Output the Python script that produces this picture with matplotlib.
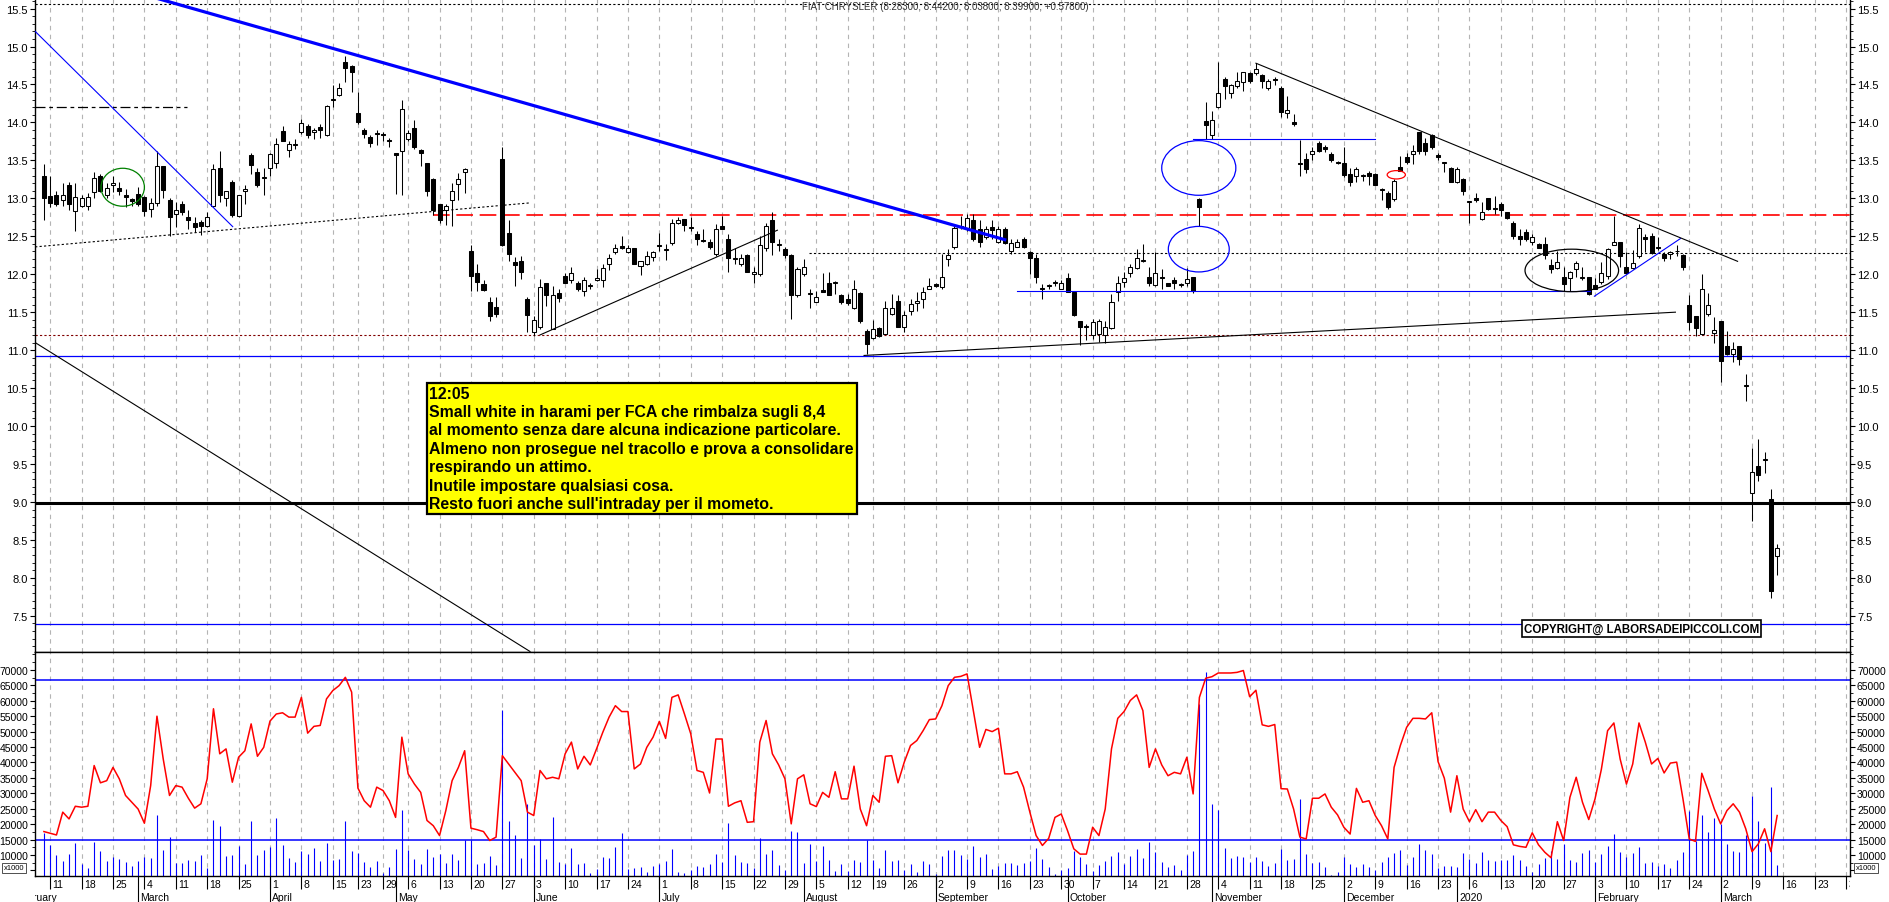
import numpy as np
import pandas as pd
import matplotlib
matplotlib.use("Agg")
import matplotlib.pyplot as plt
from matplotlib.patches import Ellipse
from matplotlib.ticker import FixedLocator, MultipleLocator, FormatStrFormatter, FuncFormatter

plt.rcParams["font.family"] = ["Liberation Sans", "DejaVu Sans"]

# ---------------------------------------------------------------- data
FIRST_DAY = "2019-02-08"
LAST_AXIS_DAY = "2020-04-03"
HOLIDAYS = ["2019-04-19", "2019-04-22", "2019-05-01", "2019-08-15",
            "2019-12-24", "2019-12-25", "2019-12-26", "2019-12-31", "2020-01-01"]

# daily candles, one row per trading week
opens = [
    13.30,
    13.03, 13.04, 12.98, 13.17, 12.83,
    12.90, 12.90, 13.08, 13.30, 13.05,
    13.18, 13.13, 13.05, 12.99, 13.06,
    13.02, 12.86, 12.94, 13.42, 12.98,
    12.80, 12.93, 12.75, 12.68, 12.69,
    12.63, 12.90, 13.40, 13.00, 13.22,
    12.77, 13.10, 13.57, 13.35, 13.27,
    13.40, 13.47, 13.89, 13.64, 13.70,
    13.87, 13.95, 13.87, 13.94, 13.84,
    14.30, 14.36, 14.79, 14.74,
    14.12, 13.90, 13.81, 13.86,
    13.85, 13.76, 13.60, 13.63,
    13.78, 13.93, 13.64, 13.46, 13.25,
    12.93, 12.84, 12.98, 13.19, 13.35,
    12.31, 12.02, 11.87, 11.63, 11.57,
    13.52, 12.54, 12.16, 12.18, 11.68,
    11.24, 11.31, 11.88, 11.28, 11.75,
    11.98, 11.92, 11.89, 11.78, 11.85,
    11.92, 11.92, 12.13, 12.29, 12.37,
    12.29, 12.34, 12.11, 12.14, 12.23,
    12.39, 12.32, 12.41, 12.67, 12.73,
    12.61, 12.53, 12.45, 12.43, 12.26,
    12.64, 12.46, 12.20, 12.13, 12.25,
    12.00, 12.00, 12.35, 12.71, 12.38,
    12.33, 12.25, 11.72, 12.00, 11.74,
    11.64, 11.79, 11.89, 11.88, 11.72,
    11.67, 11.56, 11.75, 11.25,
    11.16, 11.29, 11.21, 11.48, 11.65,
    11.31, 11.52, 11.62, 11.67, 11.81,
    11.87, 11.83, 12.20, 12.36, 12.62,
    12.61, 12.72, 12.60, 12.49, 12.62,
    12.43, 12.59, 12.30, 12.36, 12.47,
    12.29, 12.22, 11.82, 11.84, 11.89,
    11.81, 11.95, 11.77, 11.39, 11.32,
    11.20, 11.21, 11.20, 11.29, 11.76,
    11.90, 12.02, 12.08, 12.18, 11.97,
    11.86, 11.97, 11.89, 11.93, 11.86,
    11.89, 11.96, 12.99, 14.02, 13.83,
    14.20, 14.57, 14.39, 14.48, 14.53,
    14.65, 14.65, 14.63, 14.45, 14.57,
    14.46, 14.13, 14.01, 13.47, 13.52,
    13.58, 13.73, 13.67, 13.58, 13.48,
    13.47, 13.32, 13.29, 13.29, 13.34,
    13.32, 13.11, 13.07, 12.99, 13.41,
    13.54, 13.58, 13.87, 13.73, 13.83,
    13.57, 13.46,
    13.40, 13.22, 13.26,
    12.95, 13.00, 12.73, 13.00, 12.87,
    12.93, 12.82, 12.68, 12.50, 12.55,
    12.42, 12.40, 12.40, 12.12, 12.08,
    11.96, 11.95, 12.07, 11.95, 11.97,
    11.86, 11.90, 11.98, 12.39, 12.43,
    12.09, 12.08, 12.24, 12.49, 12.50,
    12.36, 12.27, 12.27, 12.31, 12.25,
    11.60, 11.45, 11.21, 11.48, 11.23,
    11.39, 11.06, 10.95, 11.06, 10.53,
    9.12, 9.48, 9.55, 9.04, 8.283,
]
highs = [
    13.45,
    13.30, 13.10, 13.20, 13.22, 13.20,
    13.05, 13.07, 13.35, 13.32, 13.20,
    13.30, 13.22, 13.12, 13.00, 13.15,
    13.03, 13.00, 13.62, 13.43, 13.00,
    12.95, 12.96, 12.85, 12.75, 12.72,
    12.82, 13.45, 13.62, 13.10, 13.24,
    13.05, 13.18, 13.60, 13.40, 13.40,
    13.60, 13.80, 13.95, 13.75, 13.78,
    14.04, 13.98, 13.93, 13.98, 14.23,
    14.49, 14.52, 14.88, 14.75,
    14.40, 13.92, 13.83, 13.90,
    13.88, 13.80, 13.60, 14.30,
    13.90, 14.03, 13.65, 13.47, 13.27,
    12.93, 12.93, 13.20, 13.33, 13.40,
    12.38, 12.13, 11.92, 11.70, 11.70,
    13.68, 12.72, 12.23, 12.24, 11.70,
    11.45, 11.94, 11.88, 11.85, 11.80,
    12.02, 12.09, 11.91, 11.96, 11.89,
    12.07, 12.13, 12.27, 12.40, 12.50,
    12.38, 12.35, 12.18, 12.30, 12.30,
    12.54, 12.40, 12.73, 12.76, 12.73,
    12.75, 12.57, 12.60, 12.46, 12.66,
    12.77, 12.53, 12.35, 12.26, 12.26,
    12.10, 12.51, 12.68, 12.82, 12.46,
    12.36, 12.26, 12.09, 12.20, 11.81,
    11.78, 12.02, 12.03, 11.91, 11.74,
    11.74, 11.92, 11.76, 11.28,
    11.40, 11.30, 11.65, 11.74, 11.72,
    11.52, 11.68, 11.76, 11.83, 11.95,
    11.88, 12.27, 12.33, 12.64, 12.77,
    12.79, 12.79, 12.71, 12.64, 12.72,
    12.64, 12.62, 12.46, 12.46, 12.49,
    12.30, 12.27, 11.87, 11.87, 11.92,
    11.92, 12.02, 11.78, 11.39, 11.34,
    11.41, 11.41, 11.39, 11.74, 11.98,
    12.03, 12.14, 12.33, 12.40, 12.09,
    12.29, 12.07, 11.89, 11.96, 11.89,
    12.08, 11.97, 13.00, 14.27, 14.15,
    14.80, 14.60, 14.50, 14.66, 14.66,
    14.67, 14.78, 14.64, 14.57, 14.60,
    14.48, 14.35, 14.11, 13.77, 13.60,
    13.67, 13.76, 13.70, 13.61, 13.49,
    13.67, 13.40, 13.41, 13.32, 13.36,
    13.33, 13.14, 13.09, 13.25, 13.56,
    13.60, 13.70, 13.88, 13.80, 13.85,
    13.60, 13.47,
    13.41, 13.41, 13.27,
    12.97, 13.07, 12.95, 13.01, 13.03,
    12.95, 12.82, 12.70, 12.60, 12.59,
    12.53, 12.41, 12.49, 12.20, 12.30,
    12.09, 12.04, 12.18, 12.09, 11.97,
    11.95, 12.16, 12.35, 12.77, 12.43,
    12.29, 12.32, 12.66, 12.53, 12.54,
    12.49, 12.29, 12.31, 12.38, 12.27,
    11.72, 11.45, 12.00, 11.75, 11.43,
    11.39, 11.25, 11.11, 11.06, 10.69,
    9.71, 9.83, 9.66, 9.17, 8.442,
]
lows = [
    12.72,
    12.89, 12.90, 12.90, 12.85, 12.57,
    12.88, 12.85, 13.00, 13.08, 13.00,
    13.08, 13.05, 12.88, 12.90, 12.90,
    12.77, 12.75, 12.90, 13.00, 12.50,
    12.62, 12.78, 12.60, 12.55, 12.52,
    12.62, 12.88, 12.95, 12.90, 12.75,
    12.76, 12.92, 13.32, 13.15, 13.05,
    13.30, 13.40, 13.75, 13.55, 13.65,
    13.85, 13.80, 13.78, 13.80, 13.82,
    14.20, 14.35, 14.53, 14.40,
    13.98, 13.80, 13.68, 13.70,
    13.75, 13.68, 13.06, 13.05,
    13.75, 13.65, 13.42, 13.03, 12.78,
    12.67, 12.65, 12.63, 12.98, 13.07,
    11.78, 11.78, 11.78, 11.39, 11.43,
    12.37, 12.17, 11.85, 11.94, 11.24,
    11.19, 11.28, 11.58, 11.28, 11.63,
    11.89, 11.89, 11.78, 11.71, 11.80,
    11.91, 11.83, 12.05, 12.27, 12.33,
    12.28, 12.14, 11.99, 12.12, 12.18,
    12.31, 12.19, 12.38, 12.66, 12.57,
    12.57, 12.38, 12.42, 12.33, 12.245,
    12.59, 12.03, 12.135, 12.11, 12.025,
    11.89, 11.98, 12.31, 12.25, 12.31,
    12.22, 11.41, 11.70, 11.98, 11.56,
    11.63, 11.76, 11.72, 11.74, 11.61,
    11.59, 11.54, 11.36, 10.95,
    11.15, 11.17, 11.21, 11.46, 11.30,
    11.24, 11.46, 11.51, 11.55, 11.80,
    11.83, 11.81, 12.11, 12.33, 12.60,
    12.575, 12.44, 12.36, 12.47, 12.465,
    12.41, 12.40, 12.27, 12.355, 12.34,
    12.00, 11.89, 11.67, 11.81, 11.85,
    11.80, 11.77, 11.45, 11.07, 11.13,
    11.15, 11.11, 11.10, 11.28, 11.65,
    11.83, 11.97, 12.07, 12.16, 11.85,
    11.84, 11.81, 11.84, 11.80, 11.83,
    11.85, 11.75, 12.64, 13.78, 13.78,
    14.19, 14.31, 14.32, 14.46, 14.41,
    14.52, 14.62, 14.45, 14.43, 14.49,
    14.07, 14.06, 13.95, 13.30, 13.34,
    13.50, 13.61, 13.61, 13.48, 13.45,
    13.28, 13.16, 13.22, 13.23, 13.17,
    13.17, 12.98, 12.86, 12.97, 13.36,
    13.45, 13.45, 13.58, 13.57, 13.65,
    13.50, 13.35,
    13.21, 13.20, 13.04,
    12.68, 12.95, 12.71, 12.85, 12.79,
    12.77, 12.73, 12.46, 12.38, 12.44,
    12.38, 12.34, 12.20, 12.02, 12.07,
    11.78, 11.78, 11.96, 11.93, 11.72,
    11.80, 11.87, 11.94, 12.38, 12.10,
    12.00, 12.07, 12.22, 12.29, 12.27,
    12.32, 12.17, 12.20, 12.24, 12.05,
    11.26, 11.19, 11.20, 11.45, 11.10,
    10.58, 10.93, 10.85, 10.80, 10.33,
    8.75, 9.28, 9.38, 7.74, 8.038,
]
closes = [
    13.00,
    12.94, 12.92, 13.05, 12.93, 13.02,
    13.00, 13.02, 13.27, 13.10, 13.14,
    13.20, 13.10, 13.02, 12.96, 12.93,
    12.83, 12.94, 13.42, 13.11, 12.75,
    12.84, 12.82, 12.71, 12.62, 12.64,
    12.75, 13.39, 13.05, 13.09, 12.78,
    13.04, 13.12, 13.44, 13.17, 13.28,
    13.59, 13.72, 13.76, 13.72, 13.72,
    13.99, 13.84, 13.90, 13.90, 14.21,
    14.30, 14.46, 14.72, 14.66,
    14.00, 13.85, 13.73, 13.85,
    13.84, 13.75, 13.57, 14.18,
    13.86, 13.68, 13.60, 13.10, 12.84,
    12.71, 12.90, 13.10, 13.25, 13.39,
    11.98, 11.90, 11.79, 11.45, 11.48,
    12.39, 12.27, 12.12, 12.03, 11.46,
    11.40, 11.83, 11.73, 11.73, 11.69,
    11.89, 12.01, 11.81, 11.92, 11.85,
    11.95, 12.08, 12.21, 12.35, 12.34,
    12.34, 12.14, 12.17, 12.24, 12.29,
    12.37, 12.32, 12.67, 12.71, 12.65,
    12.61, 12.46, 12.44, 12.36, 12.60,
    12.59, 12.21, 12.20, 12.22, 12.03,
    12.03, 12.39, 12.63, 12.43, 12.38,
    12.25, 11.73, 12.07, 12.09, 11.74,
    11.70, 11.77, 11.73, 11.88, 11.63,
    11.62, 11.81, 11.38, 11.08,
    11.28, 11.19, 11.55, 11.56, 11.31,
    11.46, 11.61, 11.65, 11.76, 11.85,
    11.85, 11.96, 12.25, 12.61, 12.62,
    12.74, 12.47, 12.43, 12.59, 12.58,
    12.60, 12.41, 12.41, 12.43, 12.36,
    12.22, 11.97, 11.81, 11.84, 11.89,
    11.89, 11.77, 11.46, 11.31, 11.30,
    11.37, 11.39, 11.31, 11.64, 11.89,
    11.95, 12.09, 12.22, 12.18, 11.88,
    12.01, 11.95, 11.85, 11.89, 11.86,
    11.94, 11.78, 12.88, 13.96, 14.03,
    14.39, 14.48, 14.49, 14.54, 14.66,
    14.54, 14.71, 14.54, 14.54, 14.56,
    14.14, 14.17, 13.98, 13.45, 13.38,
    13.62, 13.62, 13.65, 13.51, 13.46,
    13.31, 13.22, 13.39, 13.29, 13.29,
    13.17, 13.11, 12.88, 13.23, 13.36,
    13.48, 13.63, 13.63, 13.62, 13.67,
    13.54, 13.46,
    13.22, 13.39, 13.10,
    12.95, 12.98, 12.82, 12.86, 12.86,
    12.85, 12.74, 12.50, 12.47, 12.46,
    12.49, 12.35, 12.25, 12.07, 12.16,
    11.87, 12.03, 12.15, 11.95, 11.74,
    11.80, 12.02, 12.33, 12.43, 12.24,
    12.02, 12.15, 12.61, 12.46, 12.28,
    12.35, 12.22, 12.29, 12.30, 12.10,
    11.37, 11.29, 11.80, 11.59, 11.26,
    10.86, 10.95, 11.02, 10.88, 10.53,
    9.40, 9.35, 9.55, 7.821, 8.399,
]
# volume (x1000) and the red average line of the lower panel
volume = [
    17000,
    13300, 10000, 7900, 10300, 13900,
    7100, 5800, 14300, 11300, 8100,
    9400, 8700, 7800, 6500, 8100,
    9400, 9100, 23000, 11600, 15900,
    7400, 7400, 8400, 8100, 10000,
    5800, 21400, 19400, 9700, 10000,
    12900, 7100, 21000, 10000, 11600,
    12600, 22000, 13300, 9100, 7800,
    11300, 10300, 12300, 8100, 13900,
    8400, 8700, 21000, 11300,
    10600, 7800, 6100, 8100,
    4200, 6100, 12000, 24600,
    11600, 8700, 7100, 12000, 9400,
    10300, 7400, 10300, 8400, 14900,
    14900, 7100, 7400, 9700, 6800,
    57000, 21000, 16500, 9100, 26600,
    13300, 15300, 8800, 22400, 7800,
    7100, 12300, 7100, 7400, 4200,
    5500, 9400, 9100, 12600, 17000,
    5500, 5800, 6000, 4400, 6400,
    7100, 8200, 12000, 4600, 4100,
    5300, 6400, 6000, 7100, 10300,
    7800, 20500, 10000, 7800, 7400,
    5800, 15500, 10300, 11600, 6800,
    5300, 17800, 17500, 7400, 13600,
    8100, 12900, 8400, 4800, 7100,
    4800, 8400, 7800, 14900,
    8400, 5800, 11600, 8100, 8400,
    5200, 7100, 4500, 8100, 7100,
    4000, 9700, 11600, 11600, 10000,
    8700, 12900, 9400, 10300, 5500,
    6500, 7400, 7400, 6800, 7400,
    8100, 12300, 8700, 6100, 3900,
    5200, 5800, 11300, 9400, 7000,
    4800, 6800, 8100, 9700, 11000,
    7100, 9700, 12000, 9100, 14300,
    11000, 7800, 6100, 6800, 5200,
    10000, 11300, 59000, 69400, 26600,
    24600, 12300, 9100, 9700, 9400,
    7800, 9400, 8100, 6500, 7400,
    12000, 8400, 8700, 28200, 10300,
    7400, 7800, 6100, 3500, 4500,
    9400, 7100, 6100, 7100, 6100,
    5200, 7800, 9400, 10600, 11600,
    6800, 9400, 13600, 11600, 10300,
    5800, 6500,
    6500, 6100, 10600,
    8700, 7400, 11000, 8400, 8100,
    8400, 8400, 10000, 8400, 6500,
    4500, 7100, 9100, 11300, 8700,
    13600, 8400, 7800, 10600, 11600,
    7800, 10300, 12900, 16800, 11000,
    9400, 10600, 12600, 7400, 7800,
    6500, 7100, 5800, 8400, 11000,
    24300, 14500, 23000, 17600, 22000,
    20000, 13600, 11300, 11000, 16500,
    29000, 21000, 14000, 32000, 6900,
]
volume_avg = [
    17600,
    17050, 16500, 23900, 21700, 25800,
    25500, 25800, 39000, 33400, 34100,
    38400, 34700, 29300, 27100, 24900,
    20300, 32500, 55000, 41100, 29300,
    32500, 32000, 28400, 25200, 26600,
    34700, 57400, 42800, 44400, 33600,
    41700, 43800, 52500, 42000, 44900,
    53400, 55700, 56100, 54700, 54700,
    61100, 49500, 51700, 52000, 60600,
    63300, 64900, 67600, 62800,
    31700, 27600, 25500, 32000,
    30900, 27600, 22200, 48200,
    36300, 33000, 30300, 21200, 19500,
    16300, 24400, 34100, 38400, 43800,
    18700, 18200, 17600, 14700, 15800,
    42200, 39500, 36800, 34100, 23900,
    22800, 37400, 34700, 35200, 34700,
    42800, 46600, 37900, 42000, 39200,
    44400, 49800, 54700, 58400, 56500,
    56500, 37900, 39500, 44900, 48200,
    53300, 47800, 61100, 61900, 55700,
    49300, 37400, 36800, 30100, 47600,
    47600, 25800, 26900, 27600, 20600,
    20800, 46600, 53600, 42800, 39200,
    34700, 20100, 34700, 36000, 26600,
    25700, 30300, 28700, 37000, 28200,
    28200, 38800, 24900, 19500,
    29300, 27100, 42000, 42200, 33400,
    40100, 45500, 47100, 50300, 53900,
    54100, 58400, 64900, 67600, 67900,
    68700, 56800, 44900, 50700, 50000,
    51100, 36300, 36300, 37000, 32000,
    23900, 16300, 13100, 15400, 22200,
    23300, 17900, 12000, 10300, 10300,
    19000, 16300, 24900, 44400, 54300,
    56500, 60100, 61900, 56800, 38400,
    44400, 39200, 35700, 36800, 36300,
    41700, 29800, 61100, 67300, 67800,
    69000, 69000, 69000, 69200, 69800,
    61300, 63400, 52200, 51700, 52300,
    31500, 31400, 24900, 15800, 15200,
    28400, 28400, 29800, 25500, 23000,
    19000, 16800, 31600, 27100, 27600,
    22800, 19500, 15200, 38400, 45500,
    51400, 54300, 54300, 54100, 56100,
    40300, 34900,
    23900, 35700, 24900,
    20800, 24700, 20800, 23900, 23900,
    21200, 19200, 13300, 12800, 12500,
    17200, 13300, 10900, 9100, 20800,
    14700, 28700, 35200, 27100, 21500,
    28200, 37700, 50300, 52800, 41100,
    33000, 39500, 52800, 46600, 39500,
    41300, 36600, 39800, 40100, 28200,
    15200, 14400, 36500, 30900, 24900,
    20100, 24400, 26600, 23900, 18500,
    11100, 13600, 18500, 11100, 22800,
]

# drawn studies (x = trading-day number from the first candle, y = price)
full_levels = [15.557, 11.20, 10.92, 8.98, 7.39]
thick_blue_trend = [(18.2, 15.63), (153.0, 12.455)]
blue_segments = [
    [(-1.4, 15.20), (30.06, 12.627)],
    [(183.0, 13.78), (211.9, 13.78)],
    [(155.0, 11.78), (246.2, 11.78)],
    [(246.9, 11.71), (260.6, 12.47)],
]
black_segments = [
    [(-1.4, 11.10), (77.4, 7.03)],
    [(79.0, 11.20), (116.8, 12.58)],
    [(130.6, 10.93), (259.8, 11.50)],
    [(193.0, 14.78), (269.7, 12.17)],
]
dotted_segments = [
    [(-1.4, 12.36), (77.4, 12.94)],
    [(121.8, 12.28), (300.0, 12.28)],
]
dashdot_level = [(-1.4, 14.20), (22.8, 14.20)]
red_dashed_level = [(61.9, 12.78), (300.0, 12.78)]
ellipses = [  # centre x, centre y, width, height, colour
    (183.9, 13.40, 11.8, 0.72, "#0000ff"),
    (183.9, 12.33, 9.7, 0.60, "#0000ff"),
    (12.55, 13.146, 6.9, 0.50, "#008000"),
    (215.35, 13.31, 2.9, 0.11, "#ff0000"),
    (243.3, 12.05, 14.9, 0.56, "#000000"),
]
vol_levels = [66800, 15000]

note_text = ("12:05\n"
             "Small white in harami per FCA che rimbalza sugli 8,4\n"
             "al momento senza dare alcuna indicazione particolare.\n"
             "Almeno non prosegue nel tracollo e prova a consolidare\n"
             "respirando un attimo.\n"
             "Inutile impostare qualsiasi cosa.\n"
             "Resto fuori anche sull'intraday per il mometo.")
copyright_text = "COPYRIGHT@ LABORSADEIPICCOLI.COM"

# ---------------------------------------------------------------- calendar
days = pd.bdate_range(FIRST_DAY, LAST_AXIS_DAY)
days = days[~days.isin(pd.to_datetime(HOLIDAYS))]
n = len(closes)
assert len(opens) == len(highs) == len(lows) == n == len(volume) == len(volume_avg)
idx = np.arange(n)

o = np.array(opens)
c = np.array(closes)
h = np.maximum(np.array(highs), np.maximum(o, c))
l = np.minimum(np.array(lows), np.minimum(o, c))

week_starts = [i for i in range(1, len(days)) if days[i].weekday() < days[i - 1].weekday()]
month_starts = [i for i in range(1, len(days)) if days[i].month != days[i - 1].month]
year_starts = [i for i in range(1, len(days)) if days[i].year != days[i - 1].year]
# the week holding a new year is not marked: the year label takes its place
bounds = week_starts + [len(days)]
week_starts = [w for w, nxt in zip(bounds[:-1], bounds[1:])
               if not any(w < y < nxt for y in year_starts)]

XMIN, XMAX = -1.42, 287.6

# ---------------------------------------------------------------- figure
fig = plt.figure(figsize=(18.9, 9.03), dpi=100)
left, width = 35 / 1890, (1850 - 35) / 1890
ax = fig.add_axes([left, 250 / 903, width, 653 / 903])
axv = fig.add_axes([left, 26 / 903, width, 224 / 903])
axd = fig.add_axes([left, 0, width, 26 / 903])

for a in (ax, axv, axd):
    a.set_xlim(XMIN, XMAX)
    a.set_facecolor("white")

grid_kw = dict(color="#b4b4b4", lw=0.8, ls=(0, (4, 4)), zorder=0)
for w in week_starts:
    ax.axvline(w, **grid_kw)
    axv.axvline(w, **grid_kw)

# candles
up = c >= o
ax.vlines(idx, l, h, color="black", lw=0.75, zorder=3)
body_h = np.maximum(np.abs(c - o), 0.012)
ax.bar(idx, body_h, bottom=np.minimum(o, c), width=0.64,
       color=np.where(up, "white", "black"), edgecolor="black", lw=0.75, zorder=3)

# studies
ax.axhline(full_levels[0], color="black", lw=0.8, ls=(0, (2, 2)), zorder=2)
ax.axhline(full_levels[1], color="#800000", lw=0.8, ls=(0, (2, 2)), zorder=2)
ax.axhline(full_levels[2], color="#0000ff", lw=0.9, zorder=2)
ax.axhline(full_levels[3], color="black", lw=2.2, zorder=4)
ax.axhline(full_levels[4], color="#0000ff", lw=0.9, zorder=2)

(x0, y0), (x1, y1) = thick_blue_trend
ax.plot([x0, x1], [y0, y1], color="#0000ff", lw=2.3, zorder=4)
for (x0, y0), (x1, y1) in blue_segments:
    ax.plot([x0, x1], [y0, y1], color="#0000ff", lw=0.8, zorder=4)
for (x0, y0), (x1, y1) in black_segments:
    ax.plot([x0, x1], [y0, y1], color="black", lw=0.8, zorder=4)
for (x0, y0), (x1, y1) in dotted_segments:
    ax.plot([x0, x1], [y0, y1], color="black", lw=0.8, ls=(0, (2, 2)), zorder=2)
(x0, y0), (x1, y1) = dashdot_level
ax.plot([x0, x1], [y0, y1], color="black", lw=0.9, ls=(0, (8, 3, 3, 3)), zorder=2)
(x0, y0), (x1, y1) = red_dashed_level
ax.plot([x0, x1], [y0, y1], color="#ff0000", lw=1.2, ls=(0, (10, 4)), zorder=2)

for cx, cy, ew, eh, col in ellipses:
    ax.add_patch(Ellipse((cx, cy), ew, eh, fill=False, edgecolor=col, lw=0.9, zorder=5))

# boxes and title
ax.text(61.4, 10.534, note_text, ha="left", va="top", fontsize=11.4, fontweight="bold",
        linespacing=1.29, zorder=7,
        bbox=dict(boxstyle="square,pad=0.18", fc="#ffff00", ec="black", lw=1.6))
ax.text(254.4, 7.333, copyright_text, ha="center", va="center", fontsize=8.3,
        fontweight="bold", zorder=7,
        bbox=dict(boxstyle="square,pad=0.2", fc="white", ec="black", lw=1.2))
chg = closes[-1] - closes[-2]
title = (f"FIAT CHRYSLER ({opens[-1]:.5f}, {highs[-1]:.5f}, {lows[-1]:.5f}, "
         f"{closes[-1]:.5f}, {chg:+.5f})")
ax.text(0.5014, 0.997, title, transform=ax.transAxes, ha="center", va="top",
        fontsize=7, color="#333333")

ax.set_ylim(7.023, 15.626)
ax.yaxis.set_major_locator(FixedLocator(np.arange(7.5, 15.51, 0.5)))
ax.yaxis.set_minor_locator(MultipleLocator(0.1))
ax.yaxis.set_major_formatter(FormatStrFormatter("%.1f"))

# volume panel
axv.vlines(idx, 0, volume, color="#0000ff", lw=0.8, zorder=2)
axv.plot(idx, volume_avg, color="#ff0000", lw=1.1, zorder=3)
for lev in vol_levels:
    axv.axhline(lev, color="#0000ff", lw=1.1, zorder=2)
axv.set_ylim(3200, 75800)
axv.yaxis.set_major_locator(FixedLocator(np.arange(5000, 70001, 5000)))
axv.yaxis.set_minor_locator(MultipleLocator(2500))
# the lowest label sits under the "x1000" unit box
axv.yaxis.set_major_formatter(FuncFormatter(lambda v, p: "" if v < 10000 else f"{v:.0f}"))

for a, size in ((ax, 8), (axv, 7.5)):
    a.tick_params(axis="x", which="both", bottom=False, top=False,
                  labelbottom=False)
    a.tick_params(axis="y", which="both", left=True, right=True, labelleft=True,
                  labelright=True, direction="out", labelsize=size, pad=1.5,
                  colors="black")
    a.tick_params(axis="y", which="major", length=3.5)
    a.tick_params(axis="y", which="minor", length=2)
    for s in a.spines.values():
        s.set_linewidth(1.0)
ax.spines["top"].set_visible(False)

# date rows
axd.set_ylim(0, 1)
axd.axis("off")
axd.vlines(week_starts, 0.5, 1, color="black", lw=0.8)
axd.vlines(month_starts, 0, 1, color="black", lw=0.8)
for w in week_starts:
    axd.text(w + 0.35, 0.68, str(days[w].day), ha="left", va="center",
             fontsize=7.5, clip_on=True)
first_month_pos = -(len(pd.bdate_range(days[0].replace(day=1), days[0])) - 1)
for m in [first_month_pos] + month_starts:
    d = days[m] if m >= 0 else days[0]
    label = str(d.year) if d.month == 1 else d.strftime("%B")
    axd.text(m + 0.35, 0.2, label, ha="left", va="center", fontsize=7.5, clip_on=True)

box_kw = dict(boxstyle="square,pad=0.2", fc="white", ec="#333333", lw=0.6)
fig.text(4 / 1890, 1 - 869 / 903, "x1000", fontsize=5.5, va="center", ha="left", bbox=box_kw)
fig.text(1856 / 1890, 1 - 869 / 903, "x1000", fontsize=5.5, va="center", ha="left", bbox=box_kw)

fig.savefig("out.png", dpi=100)
